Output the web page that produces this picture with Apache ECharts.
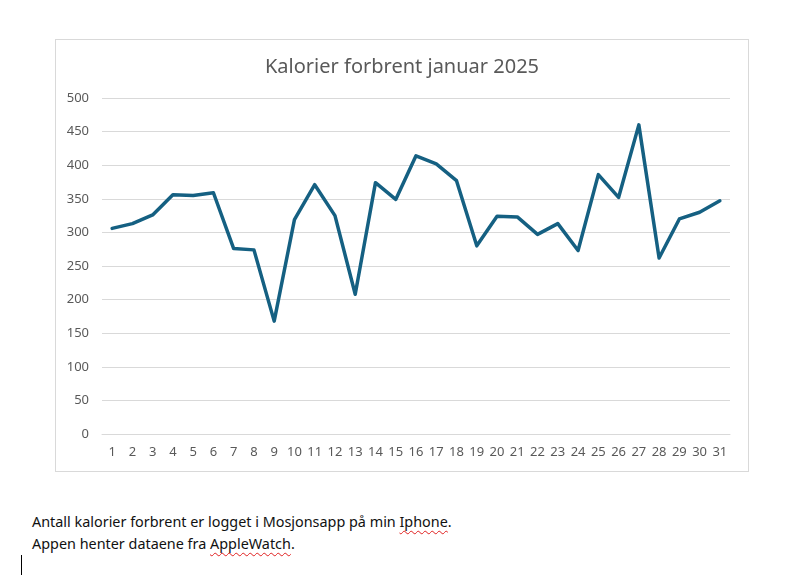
<!DOCTYPE html>
<html>
<head>
<meta charset="utf-8">
<script src="https://cdn.jsdelivr.net/npm/echarts@6/dist/echarts.min.js"></script>
<style>
  body { margin: 0; background: #fff; width: 797px; height: 588px; position: relative; overflow: hidden; font-family: "Noto Sans", sans-serif; }
  #chart { position: absolute; left: 55px; top: 39px; width: 694px; height: 433px; border: 1px solid #d9d9d9; box-sizing: border-box; }
  #note { position: absolute; left: 32px; top: 511px; font-size: 14.4px; line-height: 22px; color: #111; }
  .sp { text-decoration: underline wavy #e02020; text-decoration-thickness: 1px; text-underline-offset: 3px; }
  #cursor { position: absolute; left: 21px; top: 555px; width: 1px; height: 20px; background: #000; }
</style>
</head>
<body>
<div id="chart"></div>
<div id="note">Antall kalorier forbrent er logget i Mosjonsapp på min <span class="sp">Iphone</span>.<br>Appen henter dataene fra <span class="sp">AppleWatch</span>.</div>
<div id="cursor"></div>
<script>
// dager i januar
const days = [];
for (let d = 1; d <= 31; d++) days.push(String(d));

// kalorier per dag (avlest)
const calories = [306, 313, 326, 356, 355, 359, 276, 274, 168, 319,
                  371, 325, 208, 374, 349, 414, 402, 377, 280, 324,
                  323, 297, 313, 273, 386, 352, 460, 262, 320, 330, 347];

const chartTitle = 'Kalorier forbrent januar 2025';

const myChart = echarts.init(document.getElementById('chart'));
const option = {
  animation: false,
  title: {
    text: chartTitle,
    left: 'center',
    top: 12,
    textStyle: { fontFamily: 'Noto Sans', fontSize: 20, fontWeight: 'normal', color: '#595959' }
  },
  grid: { left: 46, right: 18, top: 58, bottom: 37 },
  xAxis: {
    type: 'category',
    data: days,
    boundaryGap: true,
    axisLine: { lineStyle: { color: '#d9d9d9' } },
    axisTick: { show: false },
    axisLabel: { color: '#595959', fontSize: 13, fontFamily: 'Noto Sans', margin: 12, interval: 0 }
  },
  yAxis: {
    type: 'value',
    min: 0,
    max: 500,
    interval: 50,
    axisLine: { show: false },
    axisTick: { show: false },
    axisLabel: { color: '#595959', fontSize: 13, fontFamily: 'Noto Sans', margin: 13 },
    splitLine: { lineStyle: { color: '#d9d9d9', width: 1 } }
  },
  series: [{
    type: 'line',
    data: calories,
    symbol: 'none',
    lineStyle: { color: '#156082', width: 3.5, join: 'round', cap: 'round' }
  }]
};
myChart.setOption(option);
</script>
</body>
</html>
